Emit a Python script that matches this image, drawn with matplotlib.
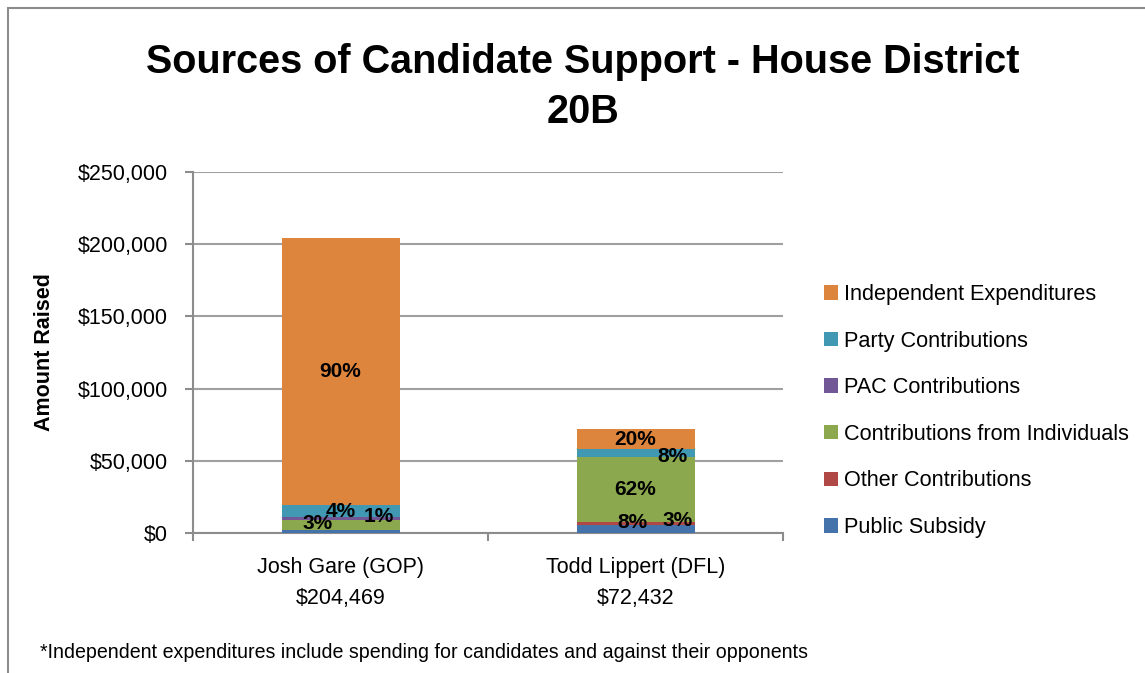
import matplotlib
matplotlib.use("Agg")
import matplotlib.pyplot as plt
from matplotlib.patches import Rectangle
from matplotlib.ticker import FuncFormatter, FixedLocator

plt.rcParams['font.family'] = ['Liberation Sans Narrow', 'Liberation Sans', 'DejaVu Sans']

# candidates and totals
candidates = ["Josh Gare (GOP)", "Todd Lippert (DFL)"]
totals = [204469, 72432]

# stacked from the bottom up
sources = ["Public Subsidy", "Other Contributions", "Contributions from Individuals",
           "PAC Contributions", "Party Contributions", "Independent Expenditures"]
public_subsidy = [2300, 5500]
other_contrib = [0, 2000]
individuals = [7100, 44950]
pac_contrib = [1600, 0]
party_contrib = [8900, 5500]
independent_exp = [184569, 14482]
amounts = [public_subsidy, other_contrib, individuals, pac_contrib, party_contrib, independent_exp]

colors = ["#4472AA", "#B04846", "#8BA84E", "#725796", "#4198B2", "#DD843D"]

# which segments carry a percent label, with nudges in pixels (None = no label)
label_nudge = {
    0: [None, None, (-23, 1), (38, 2.5), (0, -1), (0, 0)],
    1: [(-3, 7), (42, 3), (0, 0), None, (37, -3.5), (0, 0)],
}

fig = plt.figure(figsize=(11.45, 6.73), dpi=100)
ax = fig.add_axes([193 / 1145, 1 - 533.3 / 673, 590 / 1145, 361.6 / 673])

# outer chart border
fig.patches.append(Rectangle((8 / 1145, -0.1), 1.2, 1 - 8 / 673 + 0.1,
                             transform=fig.transFigure, fill=False,
                             edgecolor="#8C8C8C", linewidth=1.5))

x = [0, 1]
bottom = [0, 0]
for name, vals, col in zip(sources, amounts, colors):
    ax.bar(x, vals, width=0.4, bottom=bottom, color=col, label=name,
           linewidth=0, zorder=3)
    for i in range(2):
        nudge = label_nudge[i][sources.index(name)]
        if nudge is not None:
            pct = vals[i] / totals[i] * 100
            ax.annotate(f"{pct:.0f}%", (x[i], bottom[i] + vals[i] / 2),
                        xytext=(nudge[0] * 0.72, nudge[1] * 0.72),
                        textcoords="offset points", ha="center", va="center",
                        fontsize=15, fontweight="bold", zorder=5)
    bottom = [bottom[j] + vals[j] for j in range(2)]

ax.set_xlim(-0.5, 1.5)
ax.set_ylim(0, 250000)
ax.set_yticks(range(0, 250001, 50000))
ax.yaxis.set_major_formatter(FuncFormatter(lambda v, p: f"${v:,.0f}"))
ax.set_xticks(x)
ax.set_xticklabels([f"{c}\n${t:,}" for c, t in zip(candidates, totals)],
                   fontsize=15.5, linespacing=1.65)
ax.xaxis.set_minor_locator(FixedLocator([-0.5, 0.5, 1.5]))
ax.tick_params(axis="x", which="major", length=0, pad=17)
ax.tick_params(axis="x", which="minor", length=6, width=1.5, color="#8C8C8C")
ax.tick_params(axis="y", length=6, width=1.5, color="#8C8C8C", pad=12, labelsize=15.5)

ax.grid(axis="y", color="#A0A0A0", linewidth=1.5, zorder=0)
for s in ["top", "right"]:
    ax.spines[s].set_visible(False)
for s in ["left", "bottom"]:
    ax.spines[s].set_color("#8C8C8C")
    ax.spines[s].set_linewidth(1.5)

ax.set_ylabel("Amount Raised", fontsize=15.5, fontweight="bold")
ax.yaxis.set_label_coords(-0.234, 0.5)

fig.text(583 / 1145, 1 - 87 / 673, "Sources of Candidate Support - House District\n20B",
         ha="center", va="center", fontsize=28.5, fontweight="bold", linespacing=1.4)

handles, labels = ax.get_legend_handles_labels()
ax.legend(handles[::-1], labels[::-1], loc="center left",
          bbox_to_anchor=(815 / 1145, 1 - 411 / 673), bbox_transform=fig.transFigure,
          borderaxespad=0, frameon=False, fontsize=15.6, handlelength=0.65,
          handleheight=0.65, handletextpad=0.3, labelspacing=1.18)

fig.text(40 / 1145, 1 - 652 / 673,
         "*Independent expenditures include spending for candidates and against their opponents",
         ha="left", va="center", fontsize=14.1)

fig.savefig("out.png", dpi=100)
